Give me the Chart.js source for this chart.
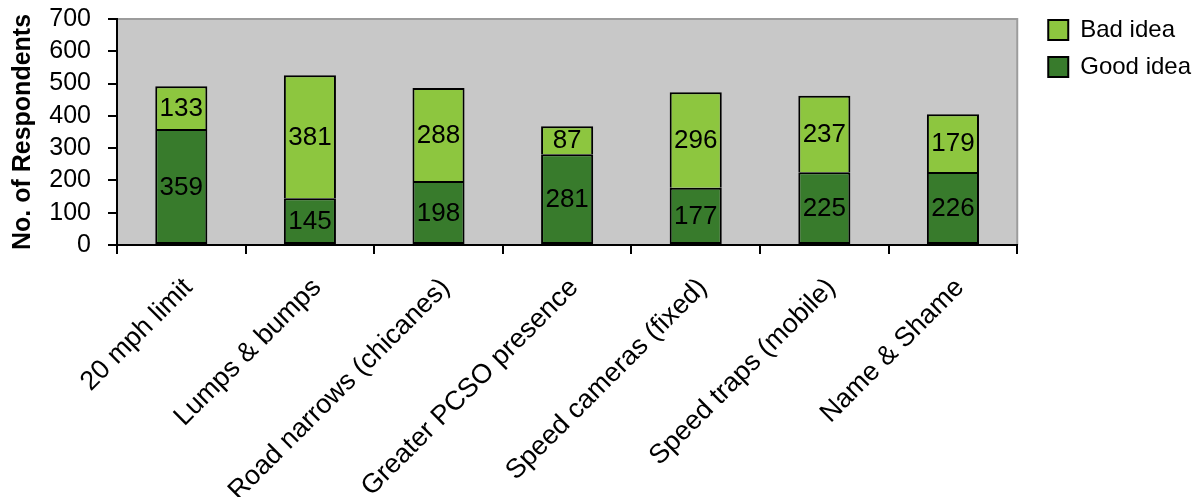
<!DOCTYPE html>
<html>
<head>
<meta charset="utf-8">
<script src="https://cdn.jsdelivr.net/npm/chart.js@4/dist/chart.umd.min.js"></script>
<style>
  html, body { margin: 0; padding: 0; background: #fff; }
  #wrap { width: 1201px; height: 497px; position: relative; }
</style>
</head>
<body>
<div id="wrap"><canvas id="myChart"></canvas></div>
<script>
const categories = ['20 mph limit', 'Lumps & bumps', 'Road narrows (chicanes)', 'Greater PCSO presence', 'Speed cameras (fixed)', 'Speed traps (mobile)', 'Name & Shame'];
const goodIdea = [359, 145, 198, 281, 177, 225, 226];
const badIdea = [133, 381, 288, 87, 296, 237, 179];
const yTicks = [0, 100, 200, 300, 400, 500, 600, 700];

const FONT = '"Liberation Sans", Arial, sans-serif';

// grey plot background with a lighter frame on top/right
const plotBg = {
    id: 'plotBg',
    beforeDraw(chart) {
        const {ctx, chartArea: a} = chart;
        ctx.save();
        ctx.fillStyle = '#C8C8C8';
        ctx.fillRect(a.left, a.top, a.right - a.left, a.bottom - a.top);
        ctx.strokeStyle = '#9C9C9C';
        ctx.lineWidth = 2;
        ctx.beginPath();
        ctx.moveTo(a.left, a.top);
        ctx.lineTo(a.right, a.top);
        ctx.lineTo(a.right, a.bottom);
        ctx.stroke();
        ctx.restore();
    }
};

// value written in the middle of each segment
const barLabels = {
    id: 'barLabels',
    afterDatasetsDraw(chart) {
        const ctx = chart.ctx;
        ctx.save();
        ctx.font = '26px ' + FONT;
        ctx.fillStyle = '#000';
        ctx.textAlign = 'center';
        ctx.textBaseline = 'middle';
        chart.data.datasets.forEach((ds, i) => {
            chart.getDatasetMeta(i).data.forEach((bar, j) => {
                const c = bar.getCenterPoint();
                ctx.fillText(ds.data[j], c.x, c.y + 1);
            });
        });
        ctx.restore();
    }
};

let myChart = document.getElementById('myChart');
new Chart(myChart, {
    type: 'bar',
    data: {
        labels: categories,
        datasets: [{
            label: 'Good idea',
            data: goodIdea,
            backgroundColor: '#387B2C',
            borderColor: '#000',
            borderWidth: 2,
            borderSkipped: false,
            barPercentage: 0.81,
            categoryPercentage: 0.5
        }, {
            label: 'Bad idea',
            data: badIdea,
            backgroundColor: '#8DC63F',
            borderColor: '#000',
            borderWidth: 2,
            borderSkipped: 'bottom', // shares the line with the bar below
            barPercentage: 0.81,
            categoryPercentage: 0.5
        }]
    },
    options: {
        responsive: true,
        maintainAspectRatio: false,
        animation: false,
        layout: { padding: { top: 5, left: 0, right: 0, bottom: 0 } },
        plugins: {
            legend: {
                position: 'right',
                align: 'start',
                reverse: true,
                labels: {
                    boxWidth: 20,
                    boxHeight: 20,
                    padding: 13,
                    color: '#000',
                    font: { family: FONT, size: 24 }
                }
            },
            tooltip: { enabled: false }
        },
        scales: {
            x: {
                stacked: true,
                grid: { drawOnChartArea: false, color: '#000', lineWidth: 2, tickLength: 9, offset: true },
                border: { color: '#000', width: 2 },
                ticks: { color: '#000', autoSkip: false, maxRotation: 45, minRotation: 45, padding: 18, labelOffset: 7, font: { family: FONT, size: 27 } },
                afterFit(s) { s.height = 252; }
            },
            y: {
                stacked: true,
                min: 0,
                max: 700,
                afterBuildTicks(s) { s.ticks = yTicks.map(v => ({value: v})); },
                grid: { drawOnChartArea: false, color: '#000', lineWidth: 2, tickLength: 9 },
                border: { color: '#000', width: 2 },
                ticks: { color: '#000', autoSkip: false, padding: 17, font: { family: FONT, size: 25 } },
                title: {
                    display: true,
                    text: 'No. of Respondents',
                    color: '#000',
                    font: { family: FONT, size: 25, weight: 'bold' },
                    padding: { top: 8, bottom: 0 }
                },
                afterFit(s) { s.width = 117; s.paddingTop = 19; }
            },
            yr: {
                position: 'right',
                grid: { display: false },
                border: { display: false },
                ticks: { display: false },
                afterFit(s) { s.width = 18; }
            }
        }
    },
    plugins: [plotBg, barLabels]
});
</script>
</body>
</html>
